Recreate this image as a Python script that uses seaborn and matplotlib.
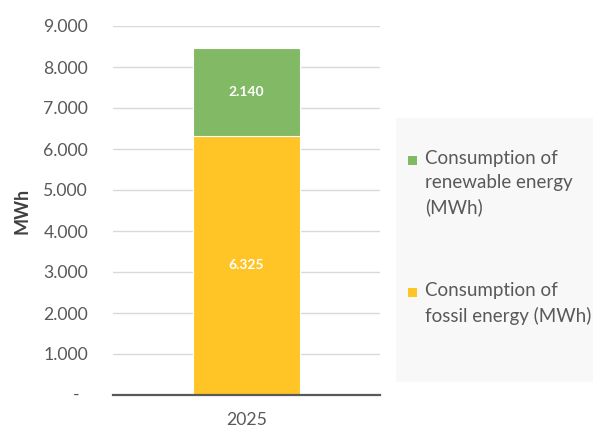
import matplotlib
matplotlib.use("Agg")
import matplotlib.pyplot as plt
import seaborn as sns
import pandas as pd
from matplotlib.patches import Rectangle

years = ["2025"]
fossil = [6325]
renewable = [2140]
series_labels = ["Consumption of\nrenewable energy\n(MWh)", "Consumption of\nfossil energy (MWh)"]
y_ticks = [0, 1000, 2000, 3000, 4000, 5000, 6000, 7000, 8000, 9000]

GREEN = "#82b964"
YELLOW = "#ffc425"
TXT = "#595959"

sns.set_style("white")
plt.rcParams["font.family"] = ["Lato", "DejaVu Sans"]

W, H = 593, 428
fig = plt.figure(figsize=(W / 100, H / 100), dpi=100)
ax = fig.add_axes([113 / W, 1 - 395 / H, (380 - 113) / W, (395 - 26) / H])

df = pd.DataFrame({"year": years, "fossil": fossil, "renewable": renewable})
df["total"] = df["fossil"] + df["renewable"]

sns.barplot(data=df, x="year", y="total", color=GREEN, saturation=1, width=0.4,
            edgecolor="white", linewidth=0.8, ax=ax, zorder=2)
sns.barplot(data=df, x="year", y="fossil", color=YELLOW, saturation=1, width=0.4,
            edgecolor="white", linewidth=0.8, ax=ax, zorder=3)

def fmt(v):
    return f"{int(round(v)):,}".replace(",", ".")

for i, r in df.iterrows():
    ax.text(i, r["fossil"] / 2, fmt(r["fossil"]), ha="center", va="center",
            color="white", fontsize=10, fontweight="bold", zorder=5)
    ax.text(i, r["fossil"] + r["renewable"] / 2, fmt(r["renewable"]), ha="center",
            va="center", color="white", fontsize=10, fontweight="bold", zorder=5)

ax.set_xlim(-0.5, 0.5)
ax.set_ylim(0, 9000)
ax.set_yticks(y_ticks)
ax.set_yticklabels([""] + [fmt(v) for v in y_ticks[1:]])
ax.tick_params(axis="y", length=0, pad=18, labelsize=12.7, labelcolor=TXT)
ax.tick_params(axis="x", length=0, pad=12, labelsize=12.7, labelcolor=TXT)
# zero label shown as a dash, placed slightly left like the accounting format
ax.annotate("-", xy=(0, y_ticks[0]), xycoords=ax.get_yaxis_transform(),
            xytext=(-33 * 0.72, 0), textcoords="offset points",
            ha="right", va="center", fontsize=12.7, color=TXT, annotation_clip=False)
ax.grid(axis="y", color="#d9d9d9", linewidth=1, zorder=0)
ax.set_axisbelow(True)
for s in ["top", "right", "left"]:
    ax.spines[s].set_visible(False)
ax.spines["bottom"].set_color("#595959")
ax.spines["bottom"].set_linewidth(1.6)
ax.spines["bottom"].set_zorder(6)
ax.set_xlabel("")
ax.set_ylabel("MWh", fontsize=13, fontweight="bold", color="#404040")
ax.yaxis.set_label_coords(-0.31, 0.5)

# legend panel
fig.patches.append(Rectangle((396 / W, 1 - 382 / H), (W - 396) / W, (382 - 118) / H,
                             transform=fig.transFigure, facecolor="#f8f8f8",
                             edgecolor="none", zorder=0))
colors = [GREEN, YELLOW]
sq_tops = [156, 288]
txt_tops = [150, 282]
for lab, c, st, tt in zip(series_labels, colors, sq_tops, txt_tops):
    fig.patches.append(Rectangle((408 / W, 1 - (st + 9) / H), 9 / W, 9 / H,
                                 transform=fig.transFigure, facecolor=c,
                                 edgecolor="none", zorder=1))
    fig.text(425 / W, 1 - tt / H, lab, ha="left", va="top", fontsize=13.5,
             color=TXT, linespacing=1.5)

fig.savefig("out.png", dpi=100)
